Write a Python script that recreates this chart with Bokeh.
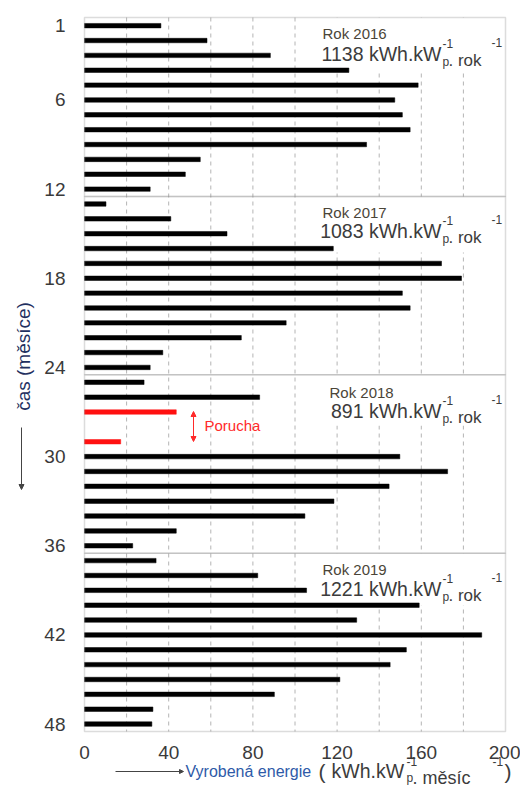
import math
from bokeh.plotting import figure
from bokeh.models import (Range1d, Label, Arrow, NormalHead, FixedTicker,
                          ColumnDataSource, BoxAnnotation)
from bokeh.embed import file_html
from bokeh.resources import INLINE

# ---------------- data ----------------
months = list(range(1, 49))
years = ["2016", "2017", "2018", "2019"]
annual_totals = [1138, 1083, 891, 1221]
energy_2016 = [36.3, 58.2, 88.3, 125.6, 158.5, 147.4, 151.0, 154.7, 134.0, 55.0, 47.9, 31.2]
energy_2017 = [10.2, 41.0, 67.7, 118.2, 169.6, 179.1, 151.0, 154.7, 95.8, 74.5, 37.2, 31.2]
energy_2018 = [28.3, 83.2, 43.6, None, 17.2, 149.8, 172.5, 144.7, 118.5, 104.7, 43.6, 22.9]
energy_2019 = [34.0, 82.3, 105.5, 159.0, 129.3, 188.7, 152.9, 145.2, 121.3, 90.2, 32.5, 32.0]
fault_months = [27, 29]
y_ticks = [1, 6, 12, 18, 24, 30, 36, 42, 48]
x_ticks = [0, 40, 80, 120, 160, 200]
grid_ticks = [20, 40, 60, 80, 100, 120, 140, 160, 180]
fault_label = "Porucha"
x_title = "Vyrobená energie"
y_title = "čas (měsíce)"

# ---------------- geometry (page pixels) ----------------
W, H = 520, 787
FL, FR, FT, FB = 84, 505, 17, 731      # chart box in page pixels
X0, X1 = 0, 200
YT, YB = 0.45, 48.5


def dx(px):
    return X0 + (px - FL) / (FR - FL) * (X1 - X0)


def dy(py):
    return YT + (py - FT) / (FB - FT) * (YB - YT)


p = figure(width=W, height=H, x_range=Range1d(dx(0), dx(W)), y_range=Range1d(dy(H), dy(0)),
           output_backend="svg", toolbar_location=None,
           min_border_left=0, min_border_right=0, min_border_top=0, min_border_bottom=0)
p.background_fill_color = "white"
p.border_fill_color = "white"
p.outline_line_color = None

FONT = "Liberation Sans"
for ax in (p.xaxis, p.yaxis):
    ax.axis_line_color = None
    ax.major_tick_line_color = None
    ax.minor_tick_line_color = None
    ax.major_label_text_font = FONT
    ax.major_label_text_font_size = "19px"
    ax.major_label_text_color = "#3a3a3a"
p.xaxis.ticker = FixedTicker(ticks=x_ticks)
p.yaxis.ticker = FixedTicker(ticks=y_ticks)
p.xaxis.fixed_location = YB
p.yaxis.fixed_location = X0
p.xaxis.major_label_standoff = 8
p.yaxis.major_label_standoff = 13
p.xgrid.visible = False
p.ygrid.visible = False

GRID = "#b4b4b4"
FRAME = "#8c8c8c"

# dashed vertical grid lines inside the chart box
p.segment(x0=grid_ticks, y0=[YT] * len(grid_ticks), x1=grid_ticks, y1=[YB] * len(grid_ticks),
          line_color=GRID, line_dash="4 4", line_width=1)

# white boxes behind the yearly annotations
box_left_px = 314
box_tops = [YT, 12.5, 24.5, 36.5]
box_bottoms = [dy(70), dy(252), dy(425), dy(605)]
p.quad(left=dx(box_left_px), right=X1, top=box_tops, bottom=box_bottoms,
       fill_color="white", line_color=None)

# bars
all_vals = energy_2016 + energy_2017 + energy_2018 + energy_2019
bar_m, bar_v, bar_c = [], [], []
for m, v in zip(months, all_vals):
    if v is None:
        continue
    bar_m.append(m)
    bar_v.append(v)
    bar_c.append("#ff1010" if m in fault_months else "black")
src = ColumnDataSource(dict(month=bar_m, value=bar_v, color=bar_c))
p.hbar(y="month", left=0, right="value", height=0.3, fill_color="color",
       line_color="color", line_width=0.5, source=src)

# panel frames (one per year)
panel_edges = [YT, 12.5, 24.5, 36.5, YB]
for top, bottom in zip(panel_edges[:-1], panel_edges[1:]):
    p.add_layout(BoxAnnotation(left=X0, right=X1, top=top, bottom=bottom,
                               fill_alpha=0, line_color=FRAME, line_width=1.5))

# yearly annotations
rok_x = [322, 322, 329, 322]
rok_y = [33, 212, 392, 569]
line_y = [53, 230, 410, 588]
W_END = 441
TXT = "#3c3c3c"
for i, (yr, tot) in enumerate(zip(years, annual_totals)):
    p.add_layout(Label(x=dx(rok_x[i]), y=dy(rok_y[i]), text="Rok " + yr,
                       text_font=FONT, text_font_size="15px", text_color="#4a4538",
                       text_align="left", text_baseline="middle"))
    c = line_y[i]
    p.add_layout(Label(x=dx(W_END), y=dy(c), text=f"{tot} kWh.kW",
                       text_font=FONT, text_font_size="19.5px", text_color=TXT,
                       text_align="right", text_baseline="middle"))
    p.add_layout(Label(x=dx(W_END + 1), y=dy(c - 10), text="-1",
                       text_font=FONT, text_font_size="12px", text_color=TXT,
                       text_align="left", text_baseline="middle"))
    p.add_layout(Label(x=dx(W_END + 1), y=dy(c + 8), text="p",
                       text_font=FONT, text_font_size="12px", text_color=TXT,
                       text_align="left", text_baseline="middle"))
    p.add_layout(Label(x=dx(W_END + 7), y=dy(c + 7), text=". rok",
                       text_font=FONT, text_font_size="17px", text_color=TXT,
                       text_align="left", text_baseline="alphabetic"))
    p.add_layout(Label(x=dx(W_END + 50), y=dy(c - 11), text="-1",
                       text_font=FONT, text_font_size="12px", text_color=TXT,
                       text_align="left", text_baseline="middle"))

# fault marker
RED = "#ff2a2a"
p.add_layout(Arrow(x_start=dx(193), y_start=dy(411), x_end=dx(193), y_end=dy(441),
                   line_color=RED, line_width=1,
                   start=NormalHead(size=5, fill_color=RED, line_color=RED),
                   end=NormalHead(size=5, fill_color=RED, line_color=RED)))
p.add_layout(Label(x=dx(204), y=dy(425), text=fault_label, text_font=FONT,
                   text_font_size="15px", text_color=RED, text_align="left",
                   text_baseline="middle"))

# y title with arrow
p.add_layout(Label(x=dx(23), y=dy(356), text=y_title, angle=math.pi / 2,
                   text_font=FONT, text_font_size="19px", text_color="#1f3060",
                   text_align="center", text_baseline="middle"))
p.add_layout(Arrow(x_start=dx(21), y_start=dy(427), x_end=dx(21), y_end=dy(489),
                   line_color="#444444", line_width=1,
                   end=NormalHead(size=5, fill_color="#444444", line_color="#444444")))

# x title with arrow
XY = 771
p.add_layout(Arrow(x_start=dx(115), y_start=dy(XY), x_end=dx(183), y_end=dy(XY),
                   line_color="#444444", line_width=1,
                   end=NormalHead(size=4, fill_color="#444444", line_color="#444444")))
p.add_layout(Label(x=dx(185), y=dy(XY), text=x_title, text_font=FONT,
                   text_font_size="16px", text_color="#2e5aa8", text_align="left",
                   text_baseline="middle"))
p.add_layout(Label(x=dx(318), y=dy(XY), text="(", text_font=FONT,
                   text_font_size="21px", text_color=TXT, text_align="left",
                   text_baseline="middle"))
p.add_layout(Label(x=dx(331), y=dy(XY - 1), text="kWh.kW", text_font=FONT,
                   text_font_size="19.5px", text_color=TXT, text_align="left",
                   text_baseline="middle"))
p.add_layout(Label(x=dx(406), y=dy(XY - 10), text="-1", text_font=FONT,
                   text_font_size="12px", text_color=TXT, text_align="left",
                   text_baseline="middle"))
p.add_layout(Label(x=dx(406), y=dy(XY + 6), text="p", text_font=FONT,
                   text_font_size="12px", text_color=TXT, text_align="left",
                   text_baseline="middle"))
p.add_layout(Label(x=dx(412), y=dy(XY + 6), text=". měsíc", text_font=FONT,
                   text_font_size="18px", text_color=TXT, text_align="left",
                   text_baseline="alphabetic"))
p.add_layout(Label(x=dx(492), y=dy(XY - 10), text="-1", text_font=FONT,
                   text_font_size="12px", text_color=TXT, text_align="left",
                   text_baseline="middle"))
p.add_layout(Label(x=dx(504), y=dy(XY), text=")", text_font=FONT,
                   text_font_size="21px", text_color=TXT, text_align="left",
                   text_baseline="middle"))

open("out.html", "w").write(file_html(p, INLINE))
